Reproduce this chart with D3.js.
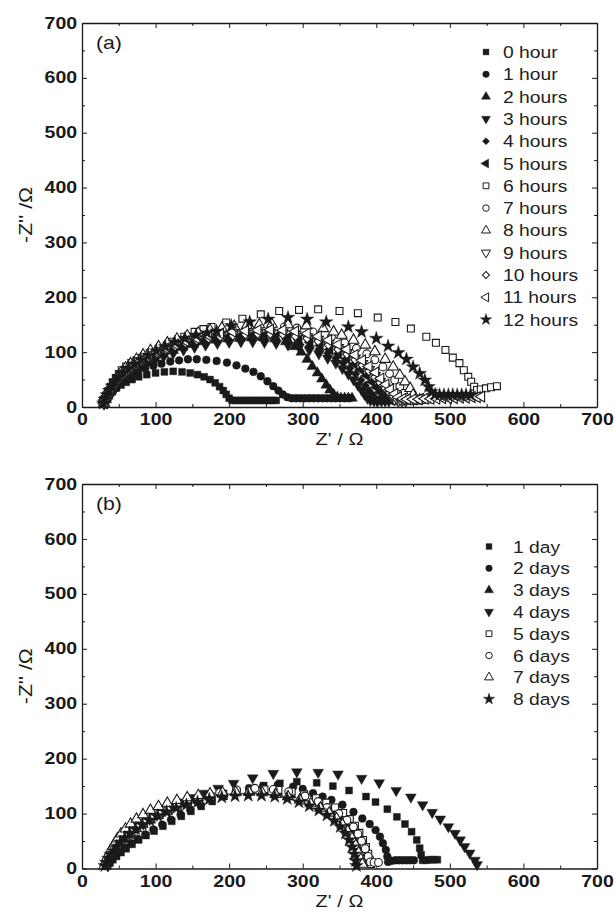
<!DOCTYPE html>
<html>
<head>
<meta charset="utf-8">
<script src="https://cdn.jsdelivr.net/npm/d3@7/dist/d3.min.js"></script>
<style>
  html, body { margin: 0; padding: 0; background: #fff; }
  svg { display: block; font-family: "Liberation Sans", Arial, Helvetica, sans-serif; }
</style>
</head>
<body>
<svg id="chart" width="615" height="915"></svg>
<script>
// Axis ticks (both panels share the same 0-700 Ω ranges)
const xTickValues = [0, 100, 200, 300, 400, 500, 600, 700];
const yTickValues = [0, 100, 200, 300, 400, 500, 600, 700];
const minorTickValues = [50, 150, 250, 350, 450, 550, 650];

// Panel (a): impedance spectra during the first 12 hours, [Z', -Z''] in Ω
const hourLabels = ["0 hour", "1 hour", "2 hours", "3 hours", "4 hours", "5 hours", "6 hours",
                    "7 hours", "8 hours", "9 hours", "10 hours", "11 hours", "12 hours"];

const h0 = [[28,5],[30,10],[32,15],[35,20],[38,25],[42,30],[47,35],[53,40],[60,45],[68,50],[77,55],[88,59],[100,62],[112,64],[124,65],[136,64],[147,62],[157,59],[166,55],[174,50],[181,44],[187,37],[192,30],[196,23],[200,16],[204,12],[209,12],[214,12],[219,12],[224,12],[229,12],[234,12],[239,12],[244,12],[249,12],[254,12],[259,12],[264,12]];
const h1 = [[29,6],[31,12],[34,18],[37,24],[41,30],[46,37],[52,44],[59,51],[67,58],[76,64],[86,70],[97,75],[108,79],[120,83],[132,85],[144,87],[156,87],[169,86],[183,84],[197,81],[210,76],[222,70],[233,64],[243,56],[252,47],[260,38],[267,30],[273,23],[279,18],[285,16],[291,16],[297,16],[303,16],[309,16],[315,16],[321,16],[327,16],[333,16],[339,16],[345,16],[351,16],[357,16],[363,16]];
const h2 = [[30,7],[32,13],[35,20],[39,27],[43,34],[48,42],[54,50],[61,58],[69,66],[78,74],[88,82],[99,89],[111,96],[124,103],[137,109],[151,114],[166,119],[182,122],[198,124],[214,125],[230,126],[246,126],[262,124],[277,119],[289,110],[298,100],[306,87],[313,74],[320,62],[326,51],[332,40],[337,31],[342,23],[347,18],[352,16],[357,16],[362,16],[367,16]];
const h3 = [[30,6],[32,12],[35,19],[39,26],[43,33],[48,40],[54,48],[61,56],[69,63],[78,71],[88,78],[99,85],[111,92],[124,98],[138,104],[153,109],[168,113],[184,116],[200,118],[216,119],[232,119],[248,118],[264,116],[280,113],[295,109],[309,104],[322,97],[334,89],[345,80],[354,70],[362,60],[369,50],[375,40],[380,31],[384,23],[388,16],[392,12],[397,11],[402,11],[407,11],[412,11],[417,11]];
const h4 = [[30,7],[32,13],[35,20],[39,28],[43,35],[48,43],[54,51],[61,59],[69,67],[78,75],[88,83],[99,90],[111,97],[124,104],[138,110],[153,115],[168,119],[184,122],[200,124],[216,125],[232,126],[248,125],[264,123],[280,120],[295,116],[309,111],[322,105],[334,98],[345,89],[355,80],[364,70],[372,60],[379,49],[385,39],[390,30],[395,22],[399,16],[403,12],[408,12],[413,12],[418,12],[423,12]];
const h5 = [[30,7],[32,14],[35,21],[39,29],[43,37],[48,45],[54,53],[61,62],[69,70],[78,78],[88,86],[99,94],[111,101],[124,108],[138,114],[153,119],[168,123],[184,127],[200,129],[216,130],[232,131],[248,131],[264,129],[280,127],[295,123],[310,118],[324,112],[337,105],[349,97],[360,88],[370,78],[379,68],[387,57],[394,46],[400,36],[405,27],[410,19],[414,14],[419,13],[424,13],[429,13],[434,13]];
const h6 = [[29,7],[31,14],[33,21],[36,29],[39,37],[42,45],[46,53],[50,60],[54,67],[60,74],[67,80],[74,85],[81,89],[92,98],[106,105],[115,112],[124,119],[139,128],[153,137],[165,142],[176,146],[196,154],[218,161],[243,169],[268,175],[295,177],[321,178],[350,175],[375,171],[402,163],[426,155],[447,143],[468,128],[481,117],[494,104],[504,90],[513,80],[519,67],[525,55],[529,46],[533,37],[537,31],[542,32],[549,34],[556,36],[564,38]];
const h7 = [[30,7],[32,14],[34,21],[37,29],[40,37],[44,45],[48,53],[53,61],[59,69],[66,77],[74,85],[83,93],[93,101],[104,108],[116,115],[129,122],[143,128],[158,133],[174,138],[190,141],[207,144],[224,146],[241,147],[258,147],[275,146],[292,144],[314,137],[339,128],[357,117],[373,107],[387,97],[398,86],[409,73],[418,61],[425,49],[432,37],[437,25],[441,17],[446,13],[451,12],[456,12],[461,12]];
const h8 = [[30,7],[32,14],[34,22],[37,30],[40,38],[44,46],[48,55],[53,63],[59,71],[66,79],[74,87],[83,95],[93,103],[104,110],[116,117],[129,124],[143,130],[158,135],[174,140],[190,144],[207,147],[224,149],[241,150],[258,151],[280,150],[305,148],[328,143],[342,137],[353,131],[369,122],[385,113],[398,101],[412,87],[423,73],[432,58],[439,46],[446,34],[450,22],[454,15],[459,13],[464,13],[469,13]];
const h9 = [[30,7],[32,13],[35,20],[38,28],[42,36],[46,44],[51,52],[57,60],[64,68],[72,76],[81,84],[91,92],[102,99],[114,106],[127,112],[141,118],[156,123],[172,127],[188,130],[205,132],[222,134],[239,135],[256,135],[273,134],[290,132],[306,128],[321,123],[335,116],[348,108],[360,99],[371,89],[381,79],[390,68],[398,57],[405,46],[411,36],[416,27],[421,19],[425,14],[430,12],[435,12],[440,12]];
const h10 = [[30,7],[32,13],[35,20],[38,27],[42,35],[46,43],[51,51],[57,59],[64,67],[72,75],[81,83],[91,90],[102,97],[114,104],[127,110],[141,116],[156,121],[172,125],[188,128],[205,130],[222,132],[239,133],[256,133],[273,132],[290,129],[306,125],[321,120],[335,113],[348,105],[360,96],[371,86],[381,76],[390,65],[398,54],[405,44],[412,34],[418,26],[423,19],[428,14],[433,12],[438,12],[443,12],[448,12]];
const h11 = [[30,7],[32,14],[35,21],[38,29],[42,37],[46,45],[51,53],[57,61],[64,69],[72,77],[81,85],[91,93],[102,100],[114,107],[127,114],[141,120],[156,125],[172,130],[188,134],[205,137],[222,139],[239,140],[256,141],[273,140],[290,138],[306,134],[321,129],[335,122],[348,114],[360,105],[371,95],[381,85],[390,74],[399,63],[406,52],[413,41],[419,32],[425,24],[430,18],[436,15],[442,14],[450,14],[458,14],[466,15],[474,15],[482,15],[490,16],[498,16],[506,16],[514,17],[522,17],[530,18],[537,18],[543,19]];
const h12 = [[29,7],[31,14],[34,22],[37,30],[41,38],[45,46],[50,54],[56,62],[63,70],[71,78],[80,86],[90,94],[101,102],[113,110],[126,118],[140,125],[155,131],[170,135],[183,138],[203,148],[228,155],[253,160],[280,163],[306,160],[332,155],[362,146],[380,137],[400,125],[416,111],[430,99],[441,87],[450,73],[459,61],[466,49],[471,37],[475,28],[480,23],[486,22],[492,22],[498,22],[504,22],[510,22],[516,22],[522,22],[528,22]];

// Panel (b): impedance spectra over 8 days, [Z', -Z''] in Ω
const dayLabels = ["1 day", "2 days", "3 days", "4 days", "5 days", "6 days", "7 days", "8 days"];

const day1 = [[35,5],[38,10],[42,16],[47,22],[53,29],[60,36],[68,44],[77,52],[87,60],[98,68],[110,77],[122,86],[135,95],[148,104],[162,113],[177,122],[193,131],[210,139],[228,146],[247,151],[269,155],[292,158],[319,156],[341,150],[363,142],[386,131],[399,121],[415,108],[428,94],[439,81],[448,67],[455,52],[459,37],[461,25],[463,15],[468,15],[473,16],[478,16],[483,16]];
const day2 = [[34,5],[37,11],[41,17],[46,24],[52,31],[59,38],[67,46],[76,54],[86,62],[97,71],[109,80],[121,89],[134,98],[147,107],[161,116],[176,125],[192,133],[209,140],[227,146],[246,150],[266,152],[287,149],[300,145],[314,137],[327,131],[339,125],[354,116],[369,103],[381,91],[391,81],[399,70],[405,58],[409,46],[413,34],[415,22],[416,12],[421,14],[426,15],[431,15],[436,15],[441,15],[446,15],[451,15]];
const day3 = [[31,5],[33,11],[36,18],[39,25],[43,32],[48,40],[53,48],[59,56],[66,64],[74,72],[83,80],[93,88],[104,96],[116,104],[129,111],[143,118],[158,124],[174,130],[191,135],[209,138],[228,140],[247,140],[266,138],[284,134],[300,128],[315,121],[328,113],[339,104],[349,94],[357,83],[363,71],[368,59],[372,46],[375,33],[377,20],[379,9]];
const day4 = [[35,5],[37,11],[40,18],[43,25],[47,33],[51,41],[56,49],[62,57],[68,65],[75,73],[83,81],[92,89],[102,97],[113,105],[125,113],[138,121],[152,129],[167,137],[185,146],[206,155],[232,165],[260,173],[292,176],[321,175],[348,172],[380,164],[404,156],[427,142],[447,130],[463,116],[476,102],[487,90],[498,76],[507,64],[514,52],[520,40],[527,28],[534,15],[537,7]];
const day5 = [[32,5],[34,12],[37,19],[40,26],[44,34],[49,42],[54,50],[60,58],[67,66],[75,74],[84,82],[94,90],[105,98],[117,105],[130,112],[144,119],[159,125],[175,131],[192,136],[210,140],[229,143],[248,144],[267,143],[285,140],[302,135],[318,128],[332,120],[344,111],[355,101],[364,90],[371,78],[377,65],[382,52],[386,39],[389,27],[391,16],[393,8]];
const day6 = [[31,5],[33,12],[36,19],[39,27],[43,35],[48,43],[53,51],[59,59],[66,67],[74,75],[83,83],[93,91],[104,99],[116,106],[129,113],[143,120],[158,126],[173,131],[187,138],[210,143],[235,146],[260,144],[281,140],[303,132],[321,122],[333,111],[349,100],[360,88],[369,76],[375,63],[380,50],[385,36],[389,22],[392,12],[397,11],[403,11]];
const day7 = [[30,5],[32,12],[34,20],[37,28],[40,36],[44,45],[48,54],[53,63],[59,72],[66,81],[74,90],[83,98],[93,106],[104,113],[116,119],[129,124],[143,129],[158,133],[174,136],[191,138],[209,139],[227,139],[245,138],[263,135],[280,131],[296,125],[311,118],[324,110],[336,101],[346,91],[354,80],[361,68],[367,55],[372,42],[376,29],[379,17],[381,8]];
const day8 = [[31,5],[33,11],[36,18],[39,25],[43,32],[47,40],[52,48],[58,56],[65,64],[73,72],[82,80],[92,88],[103,96],[115,103],[128,110],[142,116],[157,121],[173,126],[190,130],[208,132],[226,133],[244,133],[262,131],[279,127],[295,121],[309,114],[322,106],[333,97],[343,87],[351,76],[358,64],[363,52],[367,39],[370,26],[372,14],[373,5]];

// Marker styles per series
const hourShapes = ["square","circle","triangle","triangleDown","diamond","triangleLeft",
                    "square","circle","triangle","triangleDown","diamond","triangleLeft","star"];
const hourFilled = [true,true,true,true,true,true,false,false,false,false,false,false,true];
const dayShapes = ["square","circle","triangle","triangleDown","square","circle","triangle","star"];
const dayFilled = [true,true,true,true,false,false,false,true];

const svg = d3.select("#chart");
const INK = "#1a1a1a";
const plotLeft = 82, plotRight = 597;
const STRETCH = 1.18;   // the figure's lettering is set slightly wide

function markerPath(shape, k) {
  switch (shape) {
    case "square":       return d3.symbol(d3.symbolSquare, 48 * k)();
    case "circle":       return d3.symbol(d3.symbolCircle, 48 * k)();
    case "triangle":
    case "triangleDown":
    case "triangleLeft": return d3.symbol(d3.symbolTriangle, 50 * k)();
    case "diamond":      return d3.symbol(d3.symbolSquare, 36 * k)();
    case "star":         return d3.symbol(d3.symbolStar, 58 * k)();
  }
}
function markerRotation(shape) {
  if (shape === "triangleDown") return 180;
  if (shape === "triangleLeft") return -90;
  if (shape === "diamond") return 45;
  return 0;
}

const panels = [
  { tag: "(a)", series: [h0,h1,h2,h3,h4,h5,h6,h7,h8,h9,h10,h11,h12], labels: hourLabels,
    shapes: hourShapes, filled: hourFilled, top: 23, bottom: 407,
    legendY: 52, legendStep: 22.3, legendMarkX: 486, legendTextX: 503 },
  { tag: "(b)", series: [day1,day2,day3,day4,day5,day6,day7,day8], labels: dayLabels,
    shapes: dayShapes, filled: dayFilled, top: 484, bottom: 868.5,
    legendY: 546.5, legendStep: 21.8, legendMarkX: 489, legendTextX: 513 }
];

// text placed at (x,y) and widened about its anchor point
function wideText(parent, x, y, str, size, anchor, weight, sx) {
  return parent.append("text")
    .attr("transform", `translate(${x},${y}) scale(${sx || STRETCH},1)`)
    .attr("text-anchor", anchor || "start")
    .attr("font-size", size).attr("font-weight", weight || "normal")
    .attr("fill", INK).text(str);
}

panels.forEach(p => {
  const x = d3.scaleLinear().domain([0, 700]).range([plotLeft, plotRight]);
  const y = d3.scaleLinear().domain([0, 700]).range([p.bottom, p.top]);
  const g = svg.append("g");

  const styleAxis = sel => {
    sel.select(".domain").attr("stroke", INK).attr("stroke-width", 1.3);
    sel.selectAll(".tick line").attr("stroke", INK).attr("stroke-width", 1);
  };
  const styleLabels = sel => sel.selectAll(".tick text")
    .attr("fill", INK).attr("font-size", 16).attr("font-weight", "bold")
    .attr("font-family", "'Liberation Sans', Arial, sans-serif")
    .attr("transform", "scale(1.22,1)");

  // bottom & left axes with inward ticks and labels
  g.append("g").attr("transform", `translate(0,${p.bottom})`)
    .call(d3.axisBottom(x).tickValues(xTickValues).tickSize(-5).tickSizeOuter(0).tickPadding(7))
    .call(styleAxis).call(styleLabels);
  g.append("g").attr("transform", `translate(${plotLeft},0)`)
    .call(d3.axisLeft(y).tickValues(yTickValues).tickSize(-5).tickSizeOuter(0).tickPadding(4))
    .call(styleAxis).call(styleLabels);
  // top & right mirrored axes
  g.append("g").attr("transform", `translate(0,${p.top})`)
    .call(d3.axisTop(x).tickValues(xTickValues).tickSize(-5).tickSizeOuter(0).tickFormat(""))
    .call(styleAxis);
  g.append("g").attr("transform", `translate(${plotRight},0)`)
    .call(d3.axisRight(y).tickValues(yTickValues).tickSize(-5).tickSizeOuter(0).tickFormat(""))
    .call(styleAxis);
  // minor ticks on all four sides
  [[d3.axisBottom(x), `translate(0,${p.bottom})`], [d3.axisTop(x), `translate(0,${p.top})`],
   [d3.axisLeft(y), `translate(${plotLeft},0)`], [d3.axisRight(y), `translate(${plotRight},0)`]]
    .forEach(([ax, tr]) => {
      g.append("g").attr("transform", tr)
        .call(ax.tickValues(minorTickValues).tickSize(-3).tickSizeOuter(0).tickFormat(""))
        .call(s => s.select(".domain").remove())
        .call(styleAxis);
    });

  // axis titles
  wideText(g, (plotLeft + plotRight) / 2, p.bottom + 38, "Z' / Ω", 17, "middle");
  g.append("text")
    .attr("transform", `translate(32,${(p.top + p.bottom) / 2}) rotate(-90) scale(1.25,1.05)`)
    .attr("text-anchor", "middle").attr("font-size", 17).attr("fill", INK).text("-Z'' /Ω");

  // panel tag
  wideText(g, 96, p.top + 26, p.tag, 18);

  // data markers
  p.series.forEach((pts, i) => {
    const shape = p.shapes[i], filled = p.filled[i];
    const path = markerPath(shape, 1), rot = markerRotation(shape);
    g.append("g").selectAll("path").data(pts).join("path")
      .attr("d", path)
      .attr("transform", v => `translate(${x(v[0])},${y(v[1])}) rotate(${rot})`)
      .attr("fill", filled ? INK : "#fff")
      .attr("stroke", INK)
      .attr("stroke-width", filled ? 0.4 : 1.1);
  });

  // legend
  p.labels.forEach((lab, i) => {
    const ly = p.legendY + i * p.legendStep;
    const shape = p.shapes[i], filled = p.filled[i];
    g.append("path").attr("d", markerPath(shape, 0.7))
      .attr("transform", `translate(${p.legendMarkX},${ly}) rotate(${markerRotation(shape)})`)
      .attr("fill", filled ? INK : "#fff").attr("stroke", INK)
      .attr("stroke-width", filled ? 0.4 : 1);
    wideText(g, p.legendTextX, ly + 6, lab, 16.5, "start", "normal", 1.17).attr("fill", "#222");
  });
});
</script>
</body>
</html>
